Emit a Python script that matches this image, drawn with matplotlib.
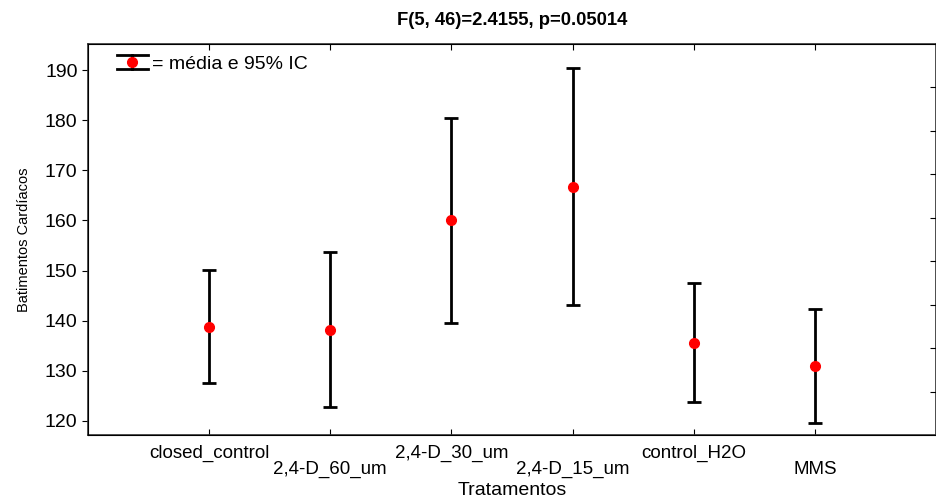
import matplotlib.pyplot as plt
import numpy as np
from matplotlib.legend_handler import HandlerBase
from matplotlib.lines import Line2D

plt.rcParams['font.family'] = ['Liberation Sans', 'DejaVu Sans']

# group means and 95% CI limits
groups = ['closed_control', '2,4-D_60_um', '2,4-D_30_um', '2,4-D_15_um', 'control_H2O', 'MMS']
means = [138.7, 138.1, 160.1, 166.7, 135.6, 131.0]
upper = [150.1, 153.7, 180.4, 190.4, 147.5, 142.4]
lower = [127.6, 122.8, 139.5, 143.1, 123.8, 119.6]


class HandlerCI(HandlerBase):
    # legend key: wide caps, short whisker and red dot
    def create_artists(self, legend, orig_handle, xdescent, ydescent,
                       width, height, fontsize, trans):
        x0, x1 = -xdescent, -xdescent + width
        y0, y1 = -ydescent, -ydescent + height
        xc, yc = (x0 + x1) / 2, (y0 + y1) / 2
        kw = dict(color='black', lw=2.0, transform=trans)
        arts = [Line2D([x0, x1], [y1, y1], **kw),
                Line2D([x0, x1], [y0, y0], **kw),
                Line2D([xc, xc], [y0, y1], **kw),
                Line2D([xc], [yc], marker='o', ls='none', color='red',
                       markersize=7, transform=trans)]
        return arts


x = np.arange(1, len(groups) + 1)
m = np.array(means)
err = [m - np.array(lower), np.array(upper) - m]

fig = plt.figure(figsize=(9.36, 5.0), dpi=100, facecolor='white')
ax = fig.add_axes([0.094, 0.13, 0.906, 0.782])

eb = ax.errorbar(x, m, yerr=err, fmt='o', color='black', ecolor='black',
                 elinewidth=2.0, capsize=5, capthick=2.0,
                 markerfacecolor='red', markeredgecolor='red', markersize=7)

ax.set_xlim(0, 7)
ax.set_ylim(117.2, 195.2)
ax.set_yticks(np.arange(120, 191, 10))
ax.set_xticks(x)
ax.set_xticklabels([g if i % 2 == 0 else '\n' + g for i, g in enumerate(groups)],
                   fontsize=13.5, linespacing=0.95)
ax.tick_params(axis='x', direction='in', length=4, top=True, pad=7)
ax.tick_params(axis='y', direction='out', length=4, labelsize=14)
for s in ax.spines.values():
    s.set_linewidth(1.2)
    s.set_color('#333333')

ax2 = ax.twinx()
ax2.set_ylim(9, 0)
ax2.set_yticks(np.arange(1, 9))
ax2.tick_params(axis='y', direction='in', length=4, labelright=False)

ax.set_ylabel('Batimentos Cardíacos', fontsize=10.5, labelpad=10)
ax.set_xlabel('Tratamentos', fontsize=14, labelpad=3)
ax.set_title('F(5, 46)=2.4155, p=0.05014', fontsize=13.3, fontweight='bold', pad=14)

ax.legend([eb], ['= média e 95% IC'], handler_map={type(eb): HandlerCI()},
          loc='upper left', frameon=False, fontsize=14, handlelength=1.6,
          handleheight=0.7, handletextpad=0.2, borderaxespad=0.3,
          borderpad=0.6, bbox_to_anchor=(0.013, 1.016))

fig.savefig('out.png', dpi=100, facecolor='white')
